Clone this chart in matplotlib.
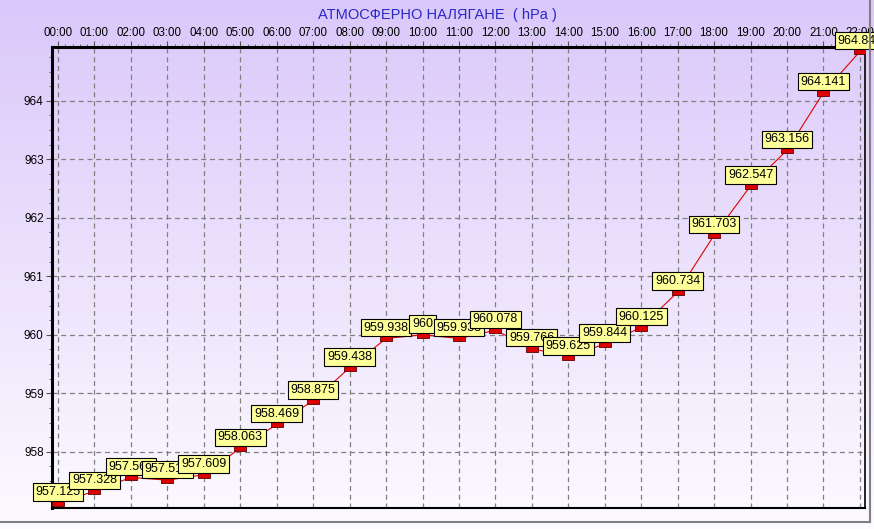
import numpy as np
import matplotlib
matplotlib.use("Agg")
import matplotlib.pyplot as plt
from matplotlib.ticker import MultipleLocator
from matplotlib.lines import Line2D

hours = list(range(23))
hour_labels = [f"{h:02d}:00" for h in hours]
pressure = [957.125, 957.328, 957.563, 957.516, 957.609, 958.063, 958.469,
            958.875, 959.438, 959.938, 960.0, 959.938, 960.078, 959.766,
            959.625, 959.844, 960.125, 960.734, 961.703, 962.547, 963.156,
            964.141, 964.844]
value_labels = ["957.125", "957.328", "957.563", "957.516", "957.609", "958.063",
                "958.469", "958.875", "959.438", "959.938", "960", "959.938",
                "960.078", "959.766", "959.625", "959.844", "960.125", "960.734",
                "961.703", "962.547", "963.156", "964.141", "964.844"]
y_ticks = [958, 959, 960, 961, 962, 963, 964]

plt.rcParams['font.family'] = ['Liberation Sans', 'DejaVu Sans']

W, H = 874, 529
fig = plt.figure(figsize=(W / 100, H / 100), dpi=100)

# background gradient over whole figure (lavender top -> white bottom)
bg = fig.add_axes([0, 0, 1, 1], zorder=-10)
top_c = np.array([218, 200, 250]) / 255
bot_c = np.array([253, 251, 255]) / 255
t = np.linspace(0, 1, 256)[:, None]
grad = top_c * (1 - t) + bot_c * t
bg.imshow(grad[:, None, :], aspect='auto', extent=[0, 1, 0, 1], origin='upper')
bg.set_xlim(0, 1)
bg.set_ylim(0, 1)
bg.axis('off')

ax = fig.add_axes([52 / W, 1 - 508 / H, (865 - 52) / W, (508 - 47) / H])
ax.patch.set_alpha(0)

ax.plot(hours, pressure, color='#e00000', lw=0.8, zorder=3)
rect = [(-1, -0.5), (1, -0.5), (1, 0.5), (-1, 0.5), (-1, -0.5)]
ax.plot(hours, pressure, ls='none', marker=rect, markersize=9,
        markerfacecolor='#dd0000', markeredgecolor='#600000', markeredgewidth=0.6,
        zorder=4)

for i, (h, p, s) in enumerate(zip(hours, pressure, value_labels)):
    ax.annotate(s, (h, p), xytext=(0, 3.5), textcoords='offset points',
                ha='center', va='bottom', fontsize=9, color='black',
                bbox=dict(boxstyle='square,pad=0.22', fc='#ffff99', ec='black', lw=0.8),
                zorder=10 + i, annotation_clip=False)

ax.set_xlim(-0.165, 22.14)
ax.set_ylim(957.04, 964.92)
ax.set_xticks(hours)
ax.set_xticklabels(hour_labels)
ax.set_yticks(y_ticks)
ax.xaxis.set_minor_locator(MultipleLocator(0.2))
ax.yaxis.set_minor_locator(MultipleLocator(0.25))
ax.xaxis.tick_top()
ax.tick_params(axis='x', which='major', labelsize=8.3, length=4, pad=2, color='#555555')
ax.tick_params(axis='y', which='major', labelsize=8.5, length=4, pad=2, color='#555555')
ax.tick_params(which='minor', length=2, color='#555555')
ax.grid(True, which='major', ls=(0, (4, 3)), color='#808080', lw=0.9)

ax.spines['left'].set_linewidth(2.2)
ax.spines['top'].set_linewidth(2.2)
ax.spines['right'].set_linewidth(1.2)
ax.spines['bottom'].set_linewidth(1.5)

fig.text(0.5, 1 - 15 / H, "АТМОСФЕРНО НАЛЯГАНЕ  ( hPa )", ha='center', va='center',
         fontsize=10.5, color='#2828c8')

# outer gray frame (right and bottom)
fig.add_artist(Line2D([870 / W, 870 / W], [1 - 522 / H, 1], color='#808080', lw=1.5))
fig.add_artist(Line2D([0, 870 / W], [1 - 522 / H, 1 - 522 / H], color='#808080', lw=1.5))

fig.savefig("out.png", dpi=100)
